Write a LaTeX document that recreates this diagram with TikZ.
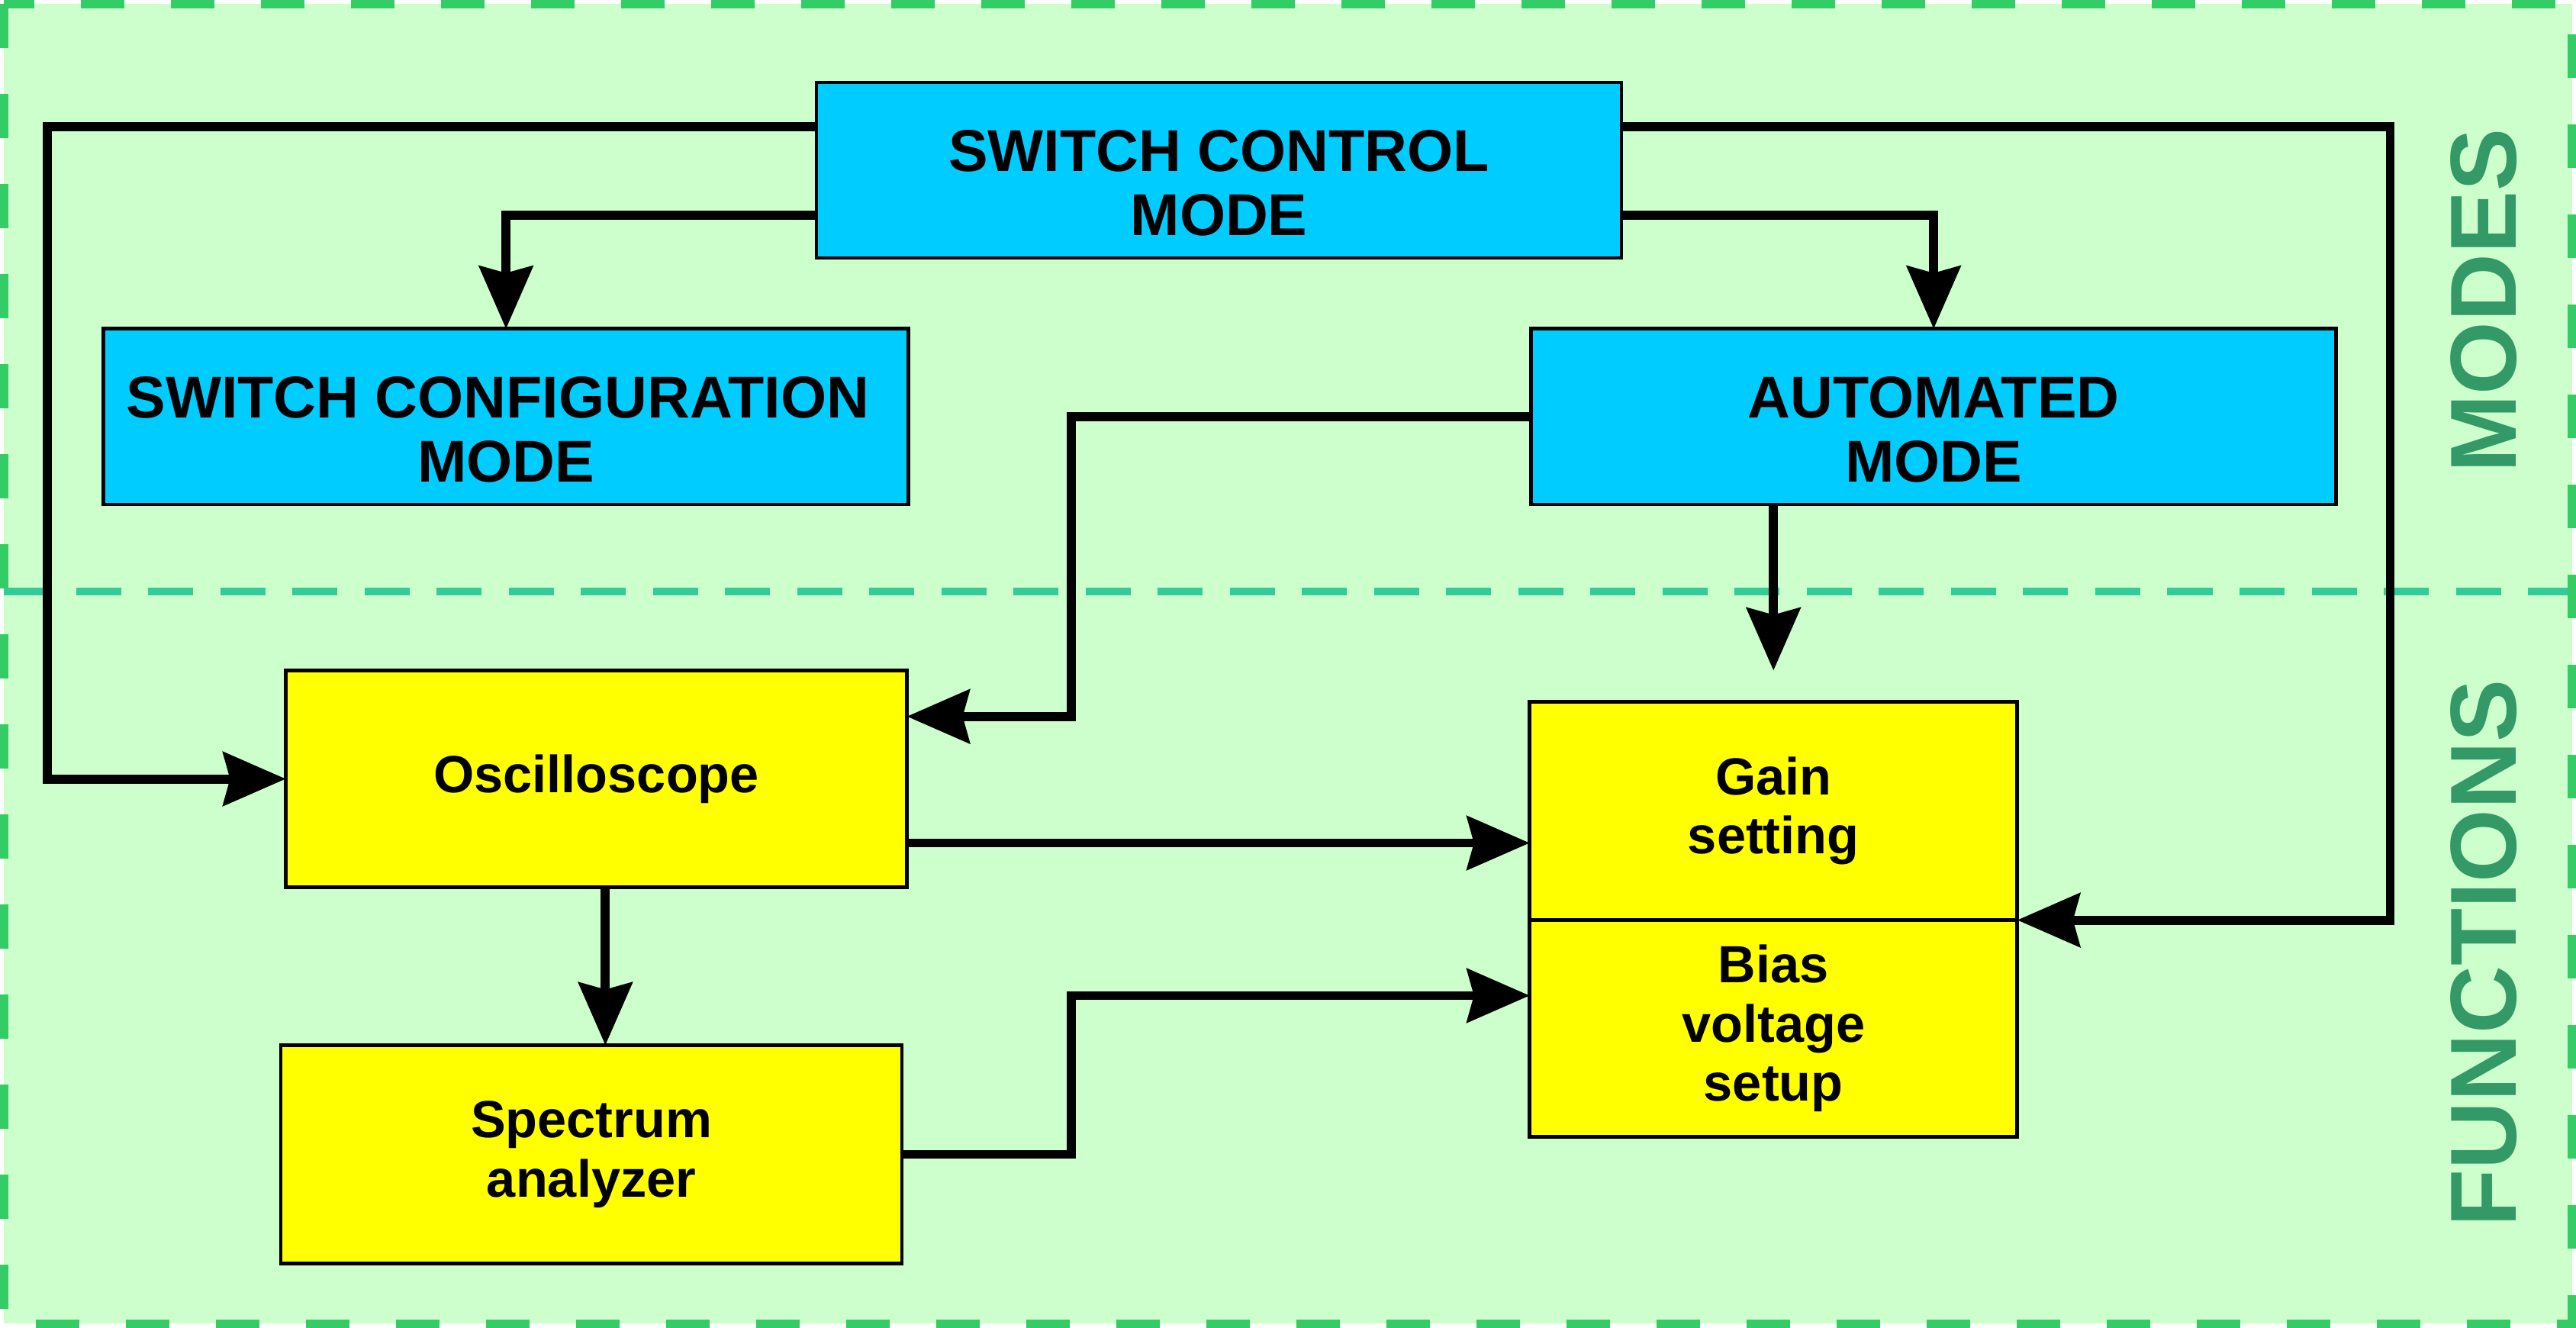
\documentclass[tikz,border=0pt]{standalone}
\usepackage{fontspec}
\setmainfont{Liberation Sans}
\usetikzlibrary{arrows.meta,calc,positioning}
\definecolor{bggreen}{HTML}{CCFFCC}
\definecolor{edgegreen}{HTML}{33CC66}
\definecolor{sepgreen}{HTML}{33CC99}
\definecolor{labelgreen}{HTML}{339966}
\definecolor{modecyan}{HTML}{00CCFF}
\definecolor{funcyellow}{HTML}{FFFF00}

\begin{document}
\begin{tikzpicture}[x=0.02153cm, y=-0.02153cm,
  modebox/.style={draw, line width=1.3pt, fill=modecyan, inner sep=0pt, outer sep=0pt,
    minimum width=10.55cm, minimum height=2.30cm},
  modetext/.style={align=center, font=\bfseries\fontsize{22}{24}\selectfont, yshift=-0.17cm},
  funcbox/.style={draw, line width=1.3pt, fill=funcyellow, inner sep=0pt, outer sep=0pt,
    align=center, font=\bfseries\fontsize{19.5}{22}\selectfont},
  flow/.style={line width=3.4pt, -{Stealth[length=0.82cm, width=0.70cm, inset=0.09cm]}},
  sidelabel/.style={rotate=90, text=labelgreen, font=\bfseries\fontsize{35}{40}\selectfont}]

  \useasboundingbox (0,0) rectangle (1568,808);
  % regions
  \fill[bggreen] (2.5,2.5) rectangle (1565.5,805.5);
  \draw[sepgreen, line width=3pt, dash pattern=on 0.59cm off 0.355cm] (2.5,360) -- (1565.5,360);
  \draw[edgegreen, line width=3pt, dash pattern=on 0.575cm off 0.605cm] (2.5,2.5) rectangle (1565.5,805.5);
  \node[sidelabel] (modes) at (1512,183) {MODES};
  \node[sidelabel] (functions) at (1512,580) {FUNCTIONS};

  % modes
  \node[modebox, label={[modetext]center:SWITCH CONTROL\\MODE}] (ctrl) at (742,103.5) {};
  \node[modebox, label={[modetext]center:SWITCH CONFIGURATION\kern.28em\\MODE}] (config) at (308,253.5) {};
  \node[modebox, label={[modetext]center:AUTOMATED\\MODE}] (auto) at (1177,253.5) {};

  % functions
  \node[funcbox, minimum width=8.14cm, minimum height=2.84cm] (osc) at (363,474) {Oscilloscope};
  \node[funcbox, minimum width=8.14cm, minimum height=2.86cm] (spec) at (360,702.5) {Spectrum\\analyzer};
  \node[funcbox, minimum width=6.39cm, minimum height=2.86cm] (gain) at (1079.5,493.5) {Gain\\setting};
  \node[funcbox, minimum width=6.39cm, minimum height=2.84cm, below=0pt of gain] (bias) {Bias\\voltage\\setup};

  % connections
  \draw[flow] ($(ctrl.west)+(0,-26.5)$) -| ($(osc.west)+(-145,0)$) -- (osc.west);
  \draw[flow] ($(ctrl.west)+(0,27.5)$) -| (config.north);
  \draw[flow] ($(ctrl.east)+(0,27.5)$) -| (auto.north);
  \draw[flow] ($(ctrl.east)+(0,-26.5)$) -| ($(gain.south east)+(227,0)$) -- (gain.south east);
  \draw[flow] (auto.west) -| ($(osc.east)+(100,-38)$) -- ($(osc.east)+(0,-38)$);
  \draw[flow] (auto.south -| gain.north) -- ($(gain.north)+(0,-19)$);
  \draw[flow] ($(osc.east)+(0,39)$) -- ($(gain.west)+(0,19.5)$);
  \draw[flow] ($(osc.south)+(5.5,0)$) -- ($(spec.north)+(8.5,0)$);
  \draw[flow] (spec.east) -| ($(bias.west)+(-279,-20)$) -- ($(bias.west)+(0,-20)$);
\end{tikzpicture}
\end{document}
